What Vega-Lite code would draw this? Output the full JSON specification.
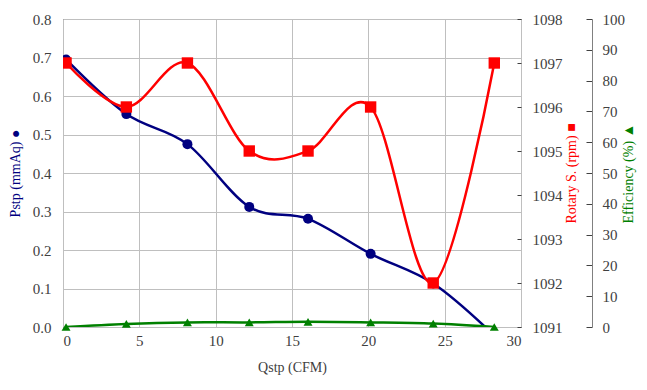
{
  "$schema": "https://vega.github.io/schema/vega-lite/v6.json",
  "width": 458,
  "height": 308,
  "autosize": "none",
  "padding": {"left": 63, "top": 19, "right": 126, "bottom": 63},
  "background": "white",
  "config": {
    "font": "Times New Roman, Liberation Serif, serif",
    "style": {"guide-label": {"font": "Times New Roman, Liberation Serif, serif", "fontSize": 15, "fill": "#404040"}, "guide-title": {"font": "Times New Roman, Liberation Serif, serif", "fontSize": 14}},
    "view": {"stroke": "#404040", "strokeWidth": 1},
    "axis": {
      "labelFont": "Times New Roman, Liberation Serif, serif",
      "titleFont": "Times New Roman, Liberation Serif, serif",
      "labelFontSize": 15,
      "titleFontSize": 14,
      "titleFontWeight": "normal",
      "labelColor": "#404040",
      "domainColor": "#404040",
      "tickColor": "#404040",
      "gridColor": "#bfbfbf",
      "gridWidth": 1
    }
  },
  "data": {
    "values": [
      {"Q": 0.2, "P": 0.695, "R": 1097, "E": 0.0},
      {"Q": 4.15, "P": 0.553, "R": 1096, "E": 1.0},
      {"Q": 8.15, "P": 0.475, "R": 1097, "E": 1.5},
      {"Q": 12.2, "P": 0.312, "R": 1095, "E": 1.5},
      {"Q": 16.05, "P": 0.281, "R": 1095, "E": 1.7},
      {"Q": 20.15, "P": 0.19, "R": 1096, "E": 1.5},
      {"Q": 24.25, "P": 0.113, "R": 1092, "E": 1.1},
      {"Q": 28.25, "P": -0.022, "R": 1097, "E": 0.0}
    ]
  },
  "encoding": {
    "x": {
      "field": "Q",
      "type": "quantitative",
      "scale": {"domain": [0, 30], "nice": false, "zero": false},
      "axis": {
        "title": "Qstp (CFM)",
        "values": [0, 5, 10, 15, 20, 25, 30],
        "ticks": false,
        "grid": true,
        "domain": false,
        "labelPadding": 6,
        "titlePadding": 12,
        "titleColor": "#404040"
      }
    }
  },
  "layer": [
    {
      "encoding": {
        "y": {
          "field": "P",
          "type": "quantitative",
          "scale": {"domain": [0, 0.8], "nice": false, "zero": false},
          "axis": {
            "orient": "left",
            "title": "Pstp (mmAq) ●",
            "titleColor": "#000080",
            "values": [0, 0.1, 0.2, 0.3, 0.4, 0.5, 0.6, 0.7, 0.8],
            "format": ".1f",
            "ticks": false,
            "grid": true,
            "domain": false,
            "labelPadding": 12,
            "titlePadding": 10
          }
        }
      },
      "layer": [
        {"mark": {"type": "line", "color": "#000080", "strokeWidth": 2.5, "interpolate": "cardinal", "clip": true}},
        {"mark": {"type": "point", "shape": "circle", "filled": true, "opacity": 1, "color": "#000080", "size": 100, "clip": true}}
      ]
    },
    {
      "encoding": {
        "y": {
          "field": "R",
          "type": "quantitative",
          "scale": {"domain": [1091, 1098], "nice": false, "zero": false},
          "axis": {
            "orient": "right",
            "title": "Rotary S. (rpm) ■",
            "titleColor": "#ff0000",
            "titleAngle": 270,
            "values": [1091, 1092, 1093, 1094, 1095, 1096, 1097, 1098],
            "format": "d",
            "grid": false,
            "domain": false,
            "tickSize": -4,
            "labelPadding": 15,
            "titlePadding": 16
          }
        }
      },
      "layer": [
        {"mark": {"type": "line", "color": "#ff0000", "strokeWidth": 2.5, "interpolate": "cardinal", "clip": true}},
        {"mark": {"type": "point", "shape": "square", "filled": true, "opacity": 1, "color": "#ff0000", "size": 130, "clip": true}}
      ]
    },
    {
      "encoding": {
        "y": {
          "field": "E",
          "type": "quantitative",
          "scale": {"domain": [0, 100], "nice": false, "zero": false},
          "axis": {
            "orient": "right",
            "offset": 71,
            "title": "Efficiency (%) ▲",
            "titleColor": "#008000",
            "titleAngle": 270,
            "values": [0, 10, 20, 30, 40, 50, 60, 70, 80, 90, 100],
            "grid": false,
            "domain": true,
            "domainColor": "#808080",
            "tickSize": -6,
            "tickColor": "#404040",
            "labelPadding": 16,
            "titlePadding": 11
          }
        }
      },
      "layer": [
        {"mark": {"type": "line", "color": "#008000", "strokeWidth": 2.5, "interpolate": "cardinal", "clip": true}},
        {"mark": {"type": "point", "shape": "triangle-up", "filled": true, "opacity": 1, "color": "#008000", "size": 80}}
      ]
    }
  ],
  "resolve": {"scale": {"y": "independent"}, "axis": {"y": "independent"}}
}
